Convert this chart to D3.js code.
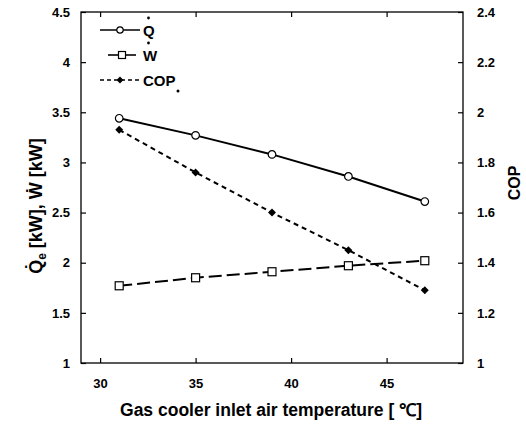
<!DOCTYPE html>
<html>
<head>
<meta charset="utf-8">
<script src="https://cdn.jsdelivr.net/npm/d3@7"></script>
<style>
  body { margin: 0; background: #fff; }
  text { font-family: "Liberation Sans", Arial, sans-serif; fill: #000; }
</style>
</head>
<body>
<svg id="chart" width="526" height="427"></svg>
<script>
// data
var temps = [31, 35, 39, 43, 47];
var qe = [3.44, 3.27, 3.08, 2.86, 2.61];
var work = [1.77, 1.85, 1.91, 1.97, 2.02];
var cop = [1.93, 1.76, 1.60, 1.45, 1.29];

var xTicks = [30, 35, 40, 45];
var leftTicks = [1, 1.5, 2, 2.5, 3, 3.5, 4, 4.5];
var rightTicks = [1, 1.2, 1.4, 1.6, 1.8, 2, 2.2, 2.4];

var margin = {top: 12, right: 63, bottom: 64, left: 81},
    width = 526 - margin.left - margin.right,
    height = 427 - margin.top - margin.bottom;

var svg = d3.select('#chart');
var g = svg.append('g').attr('transform', 'translate(' + margin.left + ',' + margin.top + ')');

var x = d3.scaleLinear().domain([29, 49]).range([0, width]);
var yL = d3.scaleLinear().domain([1, 4.5]).range([height, 0]);
var yR = d3.scaleLinear().domain([1, 2.4]).range([height, 0]);

// frame
g.append('rect')
    .attr('width', width).attr('height', height)
    .attr('fill', 'none').attr('stroke', '#000').attr('stroke-width', 1.3);

function styleAxis(sel) {
    sel.select('.domain').remove();
    sel.selectAll('.tick line').attr('stroke', '#000').attr('stroke-width', 1.2);
    sel.selectAll('.tick text')
        .style('font-size', '13px').style('font-weight', 'bold');
}

// axes, ticks pointing inward
g.append('g').attr('transform', 'translate(0,' + height + ')')
    .call(d3.axisBottom(x).tickValues(xTicks).tickSizeInner(-5).tickPadding(16))
    .call(styleAxis);
g.append('g')
    .call(d3.axisTop(x).tickValues(xTicks).tickSizeInner(-5).tickFormat(''))
    .call(styleAxis);
g.append('g')
    .call(d3.axisLeft(yL).tickValues(leftTicks).tickSizeInner(-5).tickPadding(11)
        .tickFormat(d3.format('')))
    .call(styleAxis);
g.append('g').attr('transform', 'translate(' + width + ',0)')
    .call(d3.axisRight(yR).tickValues(rightTicks).tickSizeInner(-5).tickPadding(14)
        .tickFormat(d3.format('')))
    .call(styleAxis);

// series
var series = [
    {name: 'Q', vals: qe, scale: yL, dash: null, marker: 'circle'},
    {name: 'W', vals: work, scale: yL, dash: '13,5', marker: 'square'},
    {name: 'COP', vals: cop, scale: yR, dash: '5,4', marker: 'diamond'}
];

function drawMarker(sel, type) {
    if (type === 'circle') {
        sel.append('circle').attr('r', 3.8)
            .attr('fill', '#fff').attr('stroke', '#000').attr('stroke-width', 1.2);
    } else if (type === 'square') {
        sel.append('rect').attr('x', -4).attr('y', -4).attr('width', 8).attr('height', 8)
            .attr('fill', '#fff').attr('stroke', '#000').attr('stroke-width', 1.2);
    } else {
        sel.append('path').attr('d', d3.symbol(d3.symbolDiamond2, 40)())
            .attr('fill', '#000');
    }
}

series.forEach(function(s) {
    var line = d3.line()
        .x(function(d, i) { return x(temps[i]); })
        .y(function(d) { return s.scale(d); });
    g.append('path').datum(s.vals)
        .attr('d', line)
        .attr('fill', 'none').attr('stroke', '#000').attr('stroke-width', 2)
        .attr('stroke-dasharray', s.dash);
    s.vals.forEach(function(v, i) {
        var m = g.append('g').attr('transform', 'translate(' + x(temps[i]) + ',' + s.scale(v) + ')');
        drawMarker(m, s.marker);
    });
});

// legend
var legend = svg.append('g');
var rows = [
    {y: 30, x0: 100, x1: 140, label: 'Q', dot: true},
    {y: 55, x0: 108, x1: 136, label: 'W', dot: true},
    {y: 80, x0: 100, x1: 140, label: 'COP', dot: false}
];
rows.forEach(function(r, i) {
    legend.append('line')
        .attr('x1', r.x0).attr('x2', r.x1).attr('y1', r.y).attr('y2', r.y)
        .attr('stroke', '#000').attr('stroke-width', 1.6)
        .attr('stroke-dasharray', i === 2 ? '4,3' : null);
    var m = legend.append('g').attr('transform', 'translate(' + ((r.x0 + r.x1) / 2) + ',' + r.y + ')');
    if (i === 0) {
        m.append('circle').attr('r', 3.2).attr('fill', '#fff').attr('stroke', '#000').attr('stroke-width', 1.2);
    } else if (i === 1) {
        m.append('rect').attr('x', -3.5).attr('y', -3.5).attr('width', 7).attr('height', 7)
            .attr('fill', '#fff').attr('stroke', '#000').attr('stroke-width', 1.2);
    } else {
        m.append('path').attr('d', d3.symbol(d3.symbolDiamond2, 30)()).attr('fill', '#000');
    }
    legend.append('text')
        .attr('x', 143).attr('y', r.y + 5.5)
        .style('font-size', '15px').style('font-weight', 'bold')
        .text(r.label);
    if (r.dot) {
        legend.append('circle').attr('cx', 148.5).attr('cy', r.y - 12).attr('r', 1.4).attr('fill', '#000');
    }
});
legend.append('circle').attr('cx', 178).attr('cy', 91).attr('r', 1.5).attr('fill', '#000');

// axis titles
svg.append('text')
    .attr('x', margin.left + width / 2 - 1).attr('y', 416)
    .attr('text-anchor', 'middle')
    .style('font-size', '17.5px').style('font-weight', 'bold')
    .text('Gas cooler inlet air temperature [ \u2103]');

var yt = svg.append('text')
    .attr('transform', 'translate(42,206) rotate(-90)')
    .attr('text-anchor', 'middle')
    .style('font-size', '18px').style('font-weight', 'bold');
yt.append('tspan').text('Q\u0307');
yt.append('tspan').attr('dy', 4).style('font-size', '12px').text('e');
yt.append('tspan').attr('dy', -4).text(' [kW], W\u0307 [kW]');

svg.append('text')
    .attr('transform', 'translate(520,183) rotate(-90)')
    .attr('text-anchor', 'middle')
    .style('font-size', '16px').style('font-weight', 'bold')
    .text('COP');
</script>
</body>
</html>
